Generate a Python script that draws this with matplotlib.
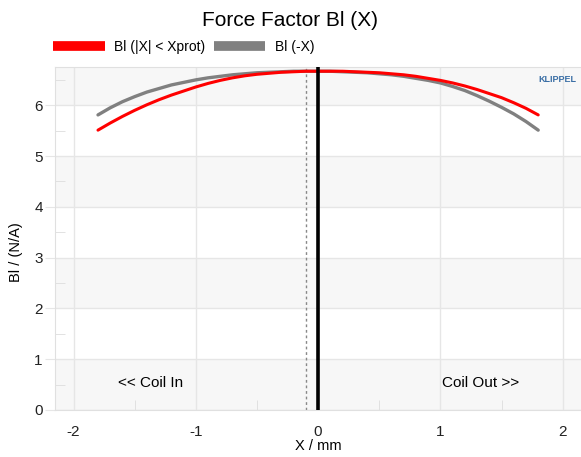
import matplotlib
matplotlib.use("Agg")
import numpy as np
import matplotlib.pyplot as plt
from matplotlib.ticker import MultipleLocator

plt.rcParams['font.family'] = ['Liberation Sans', 'DejaVu Sans']
plt.rcParams['axes.unicode_minus'] = False

# displacement in mm, sampled every 0.1 mm
x = np.linspace(-1.8, 1.8, 37)
# Bl (|X| < Xprot) in N/A
bl = [5.51, 5.65, 5.78, 5.90, 6.01, 6.11, 6.20, 6.28, 6.36, 6.43,
      6.49, 6.54, 6.58, 6.61, 6.63, 6.65, 6.66, 6.67, 6.67,
      6.67, 6.67, 6.66, 6.65, 6.64, 6.62, 6.60, 6.57, 6.53, 6.49,
      6.44, 6.38, 6.31, 6.23, 6.15, 6.05, 5.94, 5.81]
# Bl (-X) in N/A
bl_neg = [5.81, 5.95, 6.07, 6.17, 6.26, 6.33, 6.40, 6.45, 6.50, 6.54,
          6.57, 6.60, 6.62, 6.64, 6.65, 6.66, 6.67, 6.67, 6.67,
          6.67, 6.66, 6.65, 6.64, 6.62, 6.60, 6.57, 6.53, 6.49, 6.44,
          6.37, 6.29, 6.19, 6.08, 5.96, 5.83, 5.68, 5.51]

fig = plt.figure(figsize=(5.81, 4.57), dpi=100)
ax = fig.add_axes([0.095, 0.103, 0.905, 0.75])

ymax = 6.75
ax.set_xlim(-2.15, 2.15)
ax.set_ylim(0, ymax)

# alternating horizontal bands
for y0 in [0, 2, 4, 6]:
    ax.axhspan(y0, min(y0 + 1, ymax), color="#f7f7f7", zorder=0, lw=0)

ax.grid(True, color="#e6e6e6", lw=1, zorder=1)
ax.set_axisbelow(True)

ax.plot(x, bl_neg, color="#808080", lw=2.4, zorder=3, label="Bl (-X)",
        solid_capstyle="round")
ax.plot(x, bl, color="#ff0000", lw=2.2, zorder=4, label="Bl (|X| < Xprot)",
        solid_capstyle="round")

ax.axvline(0, color="black", lw=2.6, zorder=5)
ax.axvline(-0.1, color="#888888", lw=1, ls=(0, (2, 2)), zorder=2)

ax.xaxis.set_major_locator(MultipleLocator(1))
ax.xaxis.set_minor_locator(MultipleLocator(0.5))
ax.yaxis.set_major_locator(MultipleLocator(1))
ax.yaxis.set_minor_locator(MultipleLocator(0.5))
ax.tick_params(which="major", labelsize=11, colors="#222222")
ax.tick_params(axis="x", which="major", length=0, pad=11)
ax.tick_params(axis="y", which="major", length=7, color="#e6e6e6", pad=2)
ax.tick_params(which="minor", direction="in", length=7, color="#dddddd")

for side in ["top", "left", "bottom"]:
    ax.spines[side].set_color("#e0e0e0")
ax.spines["right"].set_visible(False)

ax.set_xlabel("X / mm", fontsize=10.5, labelpad=0)
ax.set_ylabel("Bl / (N/A)", fontsize=10.5)
ax.yaxis.set_label_coords(-0.062, 0.46)

ax.text(-1.37, 0.53, "<< Coil In", fontsize=11, ha="center", va="center")
ax.text(1.33, 0.53, "Coil Out >>", fontsize=11, ha="center", va="center")

ax.text(1.96, 6.5, "KLIPPEL", fontsize=6.5, color="#3a6ea5", fontweight="bold",
        ha="center", va="center")

fig.suptitle("Force Factor Bl (X)", fontsize=15, y=0.975)

# legend above the axes
handles, labels = ax.get_legend_handles_labels()
leg = fig.legend(handles[::-1], labels[::-1], loc="upper left",
                 bbox_to_anchor=(0.07, 0.94), ncol=2, frameon=False,
                 fontsize=10, handlelength=3.7, handleheight=0.8,
                 columnspacing=0.6, handletextpad=0.7)
for line in leg.get_lines():
    line.set_linewidth(7)
    line.set_solid_capstyle("butt")

fig.savefig("out.png", dpi=100)
